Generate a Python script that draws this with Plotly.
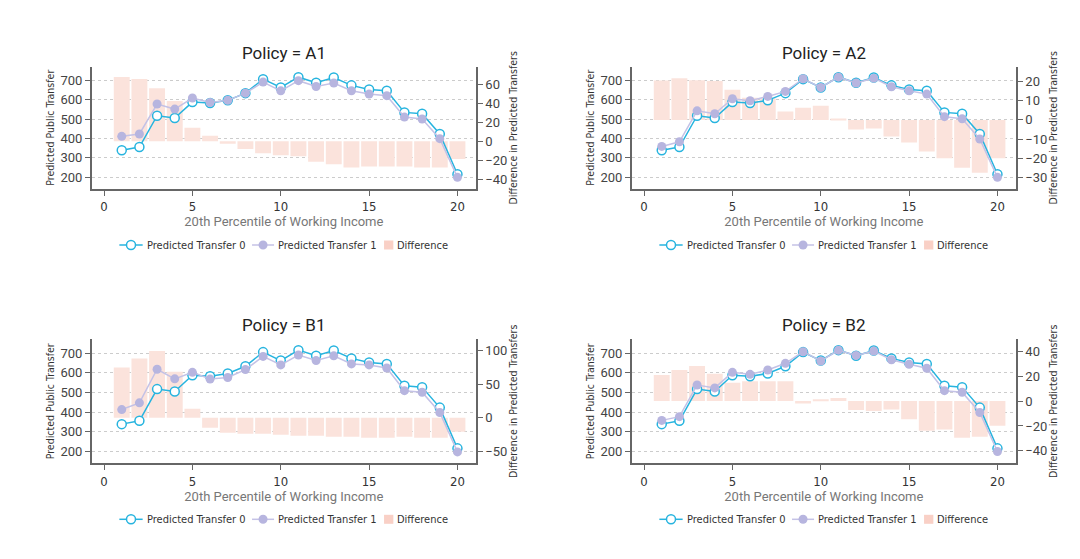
import plotly.graph_objects as go

# The page is drawn with the browser's default body margin, so the figure is
# laid out in page coordinates shifted by (OX, OY).
OX, OY = 8, 8
W, H = 1072, 546

percentile = list(range(1, 21))

transfer0 = [339, 356, 517, 505, 587, 582, 596, 633, 705, 662, 715, 686, 713, 673, 652, 645, 534, 527, 423, 216]

panels = ["A1", "A2", "B1", "B2"]

transfer1 = {
    "A1": [411, 423, 577, 551, 608, 585, 596, 633, 690, 645, 697, 667, 685, 645, 628, 620, 510, 500, 399, 200],
    "A2": [359, 383, 542, 527, 604, 594, 616, 642, 707, 662, 715, 685, 710, 666, 645, 628, 512, 501, 397, 200],
    "B1": [413, 447, 618, 569, 602, 568, 576, 616, 683, 640, 690, 662, 686, 645, 640, 624, 509, 501, 398, 198],
    "B2": [358, 377, 538, 523, 602, 592, 614, 648, 707, 660, 714, 688, 710, 666, 643, 623, 509, 501, 398, 200],
}

difference = {
    "A1": [67.8, 65.7, 56.0, 42.6, 14.4, 5.9, -2.6, -8.0, -12.6, -14.7, -15.8, -21.5, -24.3, -27.5, -26.5, -26.5, -26.5, -27.5, -27.5, -18.6],
    "A2": [20.5, 21.7, 20.7, 20.3, 15.7, 11.5, 11.3, 4.3, 6.3, 7.3, 0.4, -5.0, -4.5, -8.7, -11.8, -16.5, -20.0, -24.9, -27.5, -20.0],
    "B1": [75.0, 88.5, 99.5, 68.7, 13.4, -15.0, -22.4, -24.0, -24.0, -25.4, -27.0, -27.0, -28.4, -28.4, -30.0, -30.0, -28.4, -30.0, -30.0, -21.0],
    "B2": [20.9, 24.9, 28.1, 22.0, 14.7, 16.0, 16.0, 16.0, -2.0, 1.0, 2.4, -7.2, -8.0, -6.7, -14.7, -23.9, -22.8, -29.5, -28.7, -19.8],
}

series_names = ["Predicted Transfer 0", "Predicted Transfer 1", "Difference"]

diff_ranges = {"A1": [-50.3, 79.0], "A2": [-36, 27.8], "B1": [-68, 117], "B2": [-50, 49.6]}
diff_dtick = {"A1": 20, "A2": 10, "B1": 50, "B2": 20}

left_range = [140, 770]
x_range = [-0.7, 21.05]

# page-pixel layout (left, right, top, bottom) of each plot area
boxes = {
    "A1": (91.7, 476.0, 66.5, 189.0),
    "A2": (631.7, 1016.0, 66.5, 189.0),
    "B1": (91.7, 476.0, 339.3, 463.3),
    "B2": (631.7, 1016.0, 339.3, 463.3),
}

CYAN = "#27b4df"
PURPLE = "#b7b5df"
PURPLE_LINE = "#c4c2e6"
BAR = "#fbe3dc"
SWATCH = "#f9d0c6"
AXIS = "#666666"
COND = "DejaVu Sans Condensed, Liberation Sans Narrow, Roboto, sans-serif"
ROBOTO = "Roboto, sans-serif"


def px(x):
    return (x - OX) / W


def py(y):
    return (H - (y - OY)) / H


fig = go.Figure()
layout = dict(
    width=W, height=H, margin=dict(l=0, r=0, t=0, b=0),
    plot_bgcolor="white", paper_bgcolor="white",
    showlegend=False, barmode="overlay",
)
annotations = []
shapes = []

for k, p in enumerate(panels, start=1):
    l, r, t, b = boxes[p]
    xd = [px(l), px(r)]
    yd = [py(b), py(t)]
    xname = "x" if k == 1 else f"x{k}"
    ybar_i = 2 * k - 1
    yline_i = 2 * k
    ybar = "y" if ybar_i == 1 else f"y{ybar_i}"
    yline = f"y{yline_i}"

    fig.add_trace(go.Bar(
        x=percentile, y=difference[p], width=0.9, marker=dict(color=BAR, line=dict(width=0)),
        name=series_names[2], xaxis=xname, yaxis=ybar,
    ))
    fig.add_trace(go.Scatter(
        x=percentile, y=transfer0, mode="lines+markers", name=series_names[0],
        line=dict(color=CYAN, width=1.5),
        marker=dict(symbol="circle", size=9, color="white", line=dict(color=CYAN, width=1.5)),
        xaxis=xname, yaxis=yline,
    ))
    fig.add_trace(go.Scatter(
        x=percentile, y=transfer1[p], mode="lines+markers", name=series_names[1],
        line=dict(color=PURPLE_LINE, width=1.5),
        marker=dict(symbol="circle", size=9, color=PURPLE, line=dict(width=0)),
        xaxis=xname, yaxis=yline,
    ))

    xkey = "xaxis" if k == 1 else f"xaxis{k}"
    layout[xkey] = dict(
        domain=xd, anchor=ybar, range=x_range, tickvals=[0, 5, 10, 15, 20],
        showline=True, linecolor=AXIS, linewidth=1.5, ticks="outside", ticklen=5,
        tickcolor=AXIS, showgrid=False, zeroline=False,
        tickfont=dict(family=COND, size=13, color="#333333"),
        title=dict(text="20th Percentile of Working Income", standoff=4,
                   font=dict(family=ROBOTO, size=13, color="#777777")),
    )
    ybkey = "yaxis" if ybar_i == 1 else f"yaxis{ybar_i}"
    layout[ybkey] = dict(
        domain=yd, anchor=xname, side="right", range=diff_ranges[p], dtick=diff_dtick[p],
        showline=True, linecolor=AXIS, linewidth=1.5, ticks="outside", ticklen=5,
        tickcolor=AXIS, showgrid=False, zeroline=False,
        tickfont=dict(family=ROBOTO, size=13, color="#444444"),
        title=dict(text="Difference in Predicted Transfers", standoff=2,
                   font=dict(family=COND, size=10.5, color="#333333")),
    )
    layout[f"yaxis{yline_i}"] = dict(
        domain=yd, anchor=xname, overlaying=ybar, side="left", range=left_range,
        tickvals=[200, 300, 400, 500, 600, 700],
        showline=True, linecolor=AXIS, linewidth=1.5, ticks="outside", ticklen=5,
        tickcolor=AXIS, showgrid=True, gridcolor="#cccccc", griddash="dot", gridwidth=1,
        zeroline=False,
        tickfont=dict(family=ROBOTO, size=13, color="#444444"),
        title=dict(text="Predicted Public Transfer", standoff=4,
                   font=dict(family=COND, size=10.5, color="#333333")),
    )
    annotations.append(dict(
        text=f"Policy = {p}", xref="paper", yref="paper", x=px((l + r) / 2),
        y=py(t - 14), xanchor="center", yanchor="middle", showarrow=False,
        font=dict(family=ROBOTO, size=17, color="#222222"),
    ))

    # legend drawn below each panel
    c = (l + r) / 2
    ly = b + 56
    legend_items = [
        (c - 164.5, c - 141.2, CYAN, "white", CYAN, c - 138.9, series_names[0]),
        (c - 31.8, c - 9.8, PURPLE_LINE, PURPLE, None, c - 7.4, series_names[1]),
    ]
    for x0, x1, lc, fc, oc, tx, name in legend_items:
        shapes.append(dict(type="line", xref="paper", yref="paper", x0=px(x0), x1=px(x1),
                           y0=py(ly), y1=py(ly), line=dict(color=lc, width=1.5)))
        shapes.append(dict(type="circle", xref="paper", yref="paper",
                           xsizemode="pixel", ysizemode="pixel",
                           xanchor=px((x0 + x1) / 2), yanchor=py(ly),
                           x0=-4.5, x1=4.5, y0=-4.5, y1=4.5, fillcolor=fc,
                           line=dict(color=oc if oc else fc, width=1.5 if oc else 0)))
        annotations.append(dict(text=name, xref="paper", yref="paper", x=px(tx), y=py(ly),
                                xanchor="left", yanchor="middle", showarrow=False,
                                font=dict(family=COND, size=11, color="#333333")))
    shapes.append(dict(type="rect", xref="paper", yref="paper", x0=px(c + 100.2), x1=px(c + 109.5),
                       y0=py(ly + 4.5), y1=py(ly - 4.5), fillcolor=SWATCH, line=dict(width=0)))
    annotations.append(dict(text=series_names[2], xref="paper", yref="paper", x=px(c + 111.3),
                            y=py(ly), xanchor="left", yanchor="middle", showarrow=False,
                            font=dict(family=COND, size=11, color="#333333")))

layout["annotations"] = annotations
layout["shapes"] = shapes
fig.update_layout(**layout)
fig.write_html("out.html")
